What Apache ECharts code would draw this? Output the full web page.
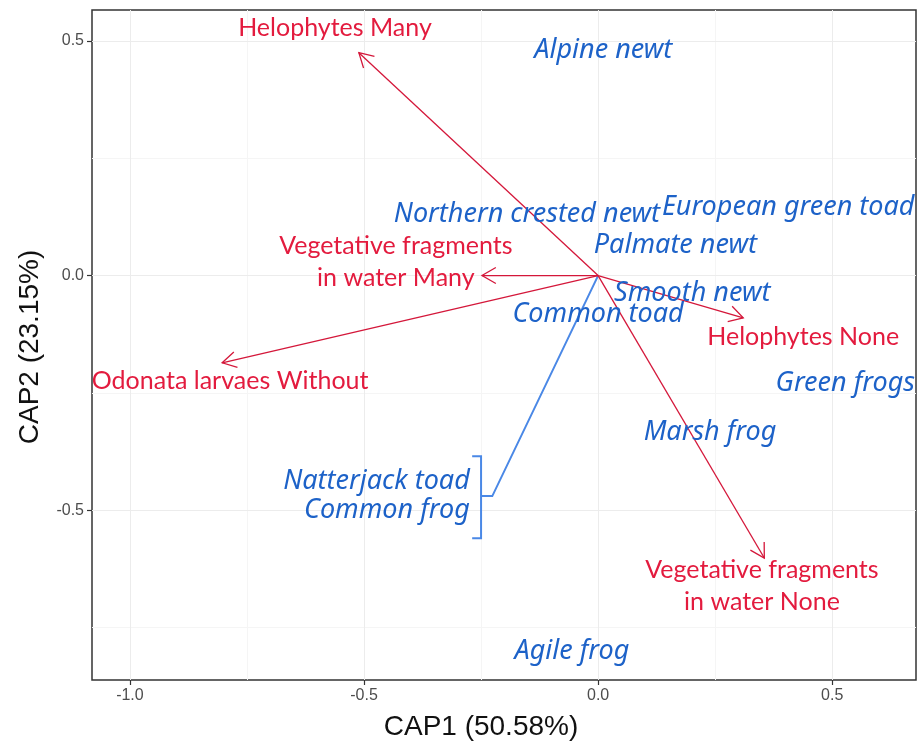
<!DOCTYPE html>
<html>
<head>
<meta charset="utf-8">
<script src="https://cdn.jsdelivr.net/npm/echarts@6/dist/echarts.min.js"></script>
<style>
  html, body { margin: 0; padding: 0; background: #fff; }
  #chart { width: 917px; height: 749px; }
</style>
</head>
<body>
<div id="chart"></div>
<script>
// 环境变量箭头（红色）：终点坐标 + 标签位置
const envNames = ['Helophytes Many', 'Vegetative fragments\nin water Many', 'Odonata larvaes Without',
                  'Helophytes None', 'Vegetative fragments\nin water None'];
const envX = [-0.511, -0.248, -0.803, 0.310, 0.355];
const envY = [0.475, 0.000, -0.186, -0.090, -0.602];
const envLabelX = [-0.562, -0.432, -0.786, 0.438, 0.350];
const envLabelY = [0.528, 0.030, -0.225, -0.131, -0.661];

// 物种标签（蓝色斜体）
const spNames = ['Alpine newt', 'Northern crested newt', 'European green toad', 'Palmate newt',
                 'Smooth newt', 'Common toad', 'Green frogs', 'Marsh frog', 'Agile frog'];
const spX = [0.011, -0.152, 0.406, 0.165, 0.201, 0.000, 0.528, 0.239, -0.056];
const spY = [0.481, 0.131, 0.146, 0.065, -0.037, -0.082, -0.229, -0.334, -0.801];

// 重叠物种（括号组）
const groupNames = ['Natterjack toad', 'Common frog'];
const groupX = [-0.274, -0.274];
const groupY = [-0.438, -0.500];
const bracketX = [-0.269, -0.250, -0.250, -0.269];
const bracketY = [-0.385, -0.385, -0.560, -0.560];
const leaderX = [-0.250, -0.226, 0.000];
const leaderY = [-0.470, -0.470, 0.000];

// 坐标轴
const xRange = [-1.081, 0.679];
const yRange = [-0.862, 0.566];
const majorTicks = [-1.0, -0.5, 0.0, 0.5];
const yMajorTicks = [-0.5, 0.0, 0.5];
const minorTicks = [-0.75, -0.25, 0.25];

const RED = '#e31b3e';
const RED_LINE = '#d4173a';
const BLUE = '#1d62c8';
const BLUE_LINE = '#4a88e6';

const chart = echarts.init(document.getElementById('chart'));

// 网格线：主/次
function gridLines() {
  const d = [];
  minorTicks.forEach(v => {
    d.push({ xAxis: v, lineStyle: { color: '#f5f5f5', width: 1, type: 'solid' } });
    d.push({ yAxis: v, lineStyle: { color: '#f5f5f5', width: 1, type: 'solid' } });
  });
  majorTicks.forEach(v => d.push({ xAxis: v, lineStyle: { color: '#ececec', width: 1, type: 'solid' } }));
  yMajorTicks.forEach(v => d.push({ yAxis: v, lineStyle: { color: '#ececec', width: 1, type: 'solid' } }));
  return d;
}

function labelItem(font, align, names) {
  return (params, api) => {
    const p = api.coord([api.value(0), api.value(1)]);
    return { type: 'text', x: p[0], y: p[1],
      style: { text: names[params.dataIndex], fill: names === envNames ? RED : BLUE, font: font,
               align: align, verticalAlign: 'middle', lineHeight: 32 } };
  };
}

const option = {
  animation: false,
  grid: {
    left: 92, right: 1, top: 10, bottom: 69,
    show: true, borderColor: '#333', borderWidth: 1.5, backgroundColor: 'transparent'
  },
  xAxis: {
    type: 'value', min: xRange[0], max: xRange[1],
    axisLine: { show: false, onZero: false },
    splitLine: { show: false },
    axisTick: { show: true, length: 5, customValues: majorTicks, lineStyle: { color: '#333', width: 1.2 } },
    axisLabel: {
      customValues: majorTicks, color: '#4d4d4d', fontSize: 16, margin: 8,
      fontFamily: 'Liberation Sans', formatter: v => v.toFixed(1)
    }
  },
  yAxis: {
    type: 'value', min: yRange[0], max: yRange[1],
    axisLine: { show: false, onZero: false },
    splitLine: { show: false },
    axisTick: { show: true, length: 5, customValues: yMajorTicks, lineStyle: { color: '#333', width: 1.2 } },
    axisLabel: {
      customValues: yMajorTicks, color: '#4d4d4d', fontSize: 16, margin: 8,
      fontFamily: 'Liberation Sans', formatter: v => v.toFixed(1)
    }
  },
  graphic: [
    { type: 'text', x: 481, y: 727,
      style: { text: 'CAP1 (50.58%)', font: '28px "Liberation Sans"', fill: '#111',
               align: 'center', verticalAlign: 'middle' } },
    { type: 'text', x: 30, y: 347, rotation: Math.PI / 2,
      style: { text: 'CAP2 (23.15%)', font: '28px "Liberation Sans"', fill: '#111',
               align: 'center', verticalAlign: 'middle' } }
  ],
  series: [
    // 网格线
    {
      type: 'line', data: [], silent: true, z: 0,
      markLine: { silent: true, z: 0, symbol: 'none', label: { show: false }, animation: false, data: gridLines() }
    },
    // 括号 + 引线
    {
      type: 'custom', z: 3, silent: true,
      data: [[0, 0]],
      renderItem: (params, api) => ({
        type: 'group',
        children: [
          { type: 'polyline', shape: { points: bracketX.map((x, i) => api.coord([x, bracketY[i]])) },
            style: { stroke: BLUE_LINE, lineWidth: 2, fill: null } },
          { type: 'polyline', shape: { points: leaderX.map((x, i) => api.coord([x, leaderY[i]])) },
            style: { stroke: BLUE_LINE, lineWidth: 2, fill: null } }
        ]
      })
    },
    // 红色箭头
    {
      type: 'custom', z: 4, silent: true,
      data: envX.map((x, i) => [x, envY[i]]),
      renderItem: (params, api) => {
        const o = api.coord([0, 0]);
        const t = api.coord([api.value(0), api.value(1)]);
        const ang = Math.atan2(t[1] - o[1], t[0] - o[0]);
        const L = 16, a = Math.PI / 6;
        const p1 = [t[0] - L * Math.cos(ang - a), t[1] - L * Math.sin(ang - a)];
        const p2 = [t[0] - L * Math.cos(ang + a), t[1] - L * Math.sin(ang + a)];
        return {
          type: 'group',
          children: [
            { type: 'line', shape: { x1: o[0], y1: o[1], x2: t[0], y2: t[1] },
              style: { stroke: RED_LINE, lineWidth: 1.3 } },
            { type: 'polyline', shape: { points: [p1, t, p2] },
              style: { stroke: RED_LINE, lineWidth: 1.3, fill: null } }
          ]
        };
      }
    },
    // 红色标签
    {
      type: 'custom', z: 5, silent: true,
      data: envLabelX.map((x, i) => [x, envLabelY[i]]),
      renderItem: labelItem('25px Lato', 'center', envNames)
    },
    // 蓝色物种标签
    {
      type: 'custom', z: 5, silent: true,
      data: spX.map((x, i) => [x, spY[i]]),
      renderItem: labelItem('italic 27px "Noto Sans"', 'center', spNames)
    },
    // 括号组标签（右对齐）
    {
      type: 'custom', z: 5, silent: true,
      data: groupX.map((x, i) => [x, groupY[i]]),
      renderItem: labelItem('italic 27px "Noto Sans"', 'right', groupNames)
    }
  ]
};

chart.setOption(option);
</script>
</body>
</html>
